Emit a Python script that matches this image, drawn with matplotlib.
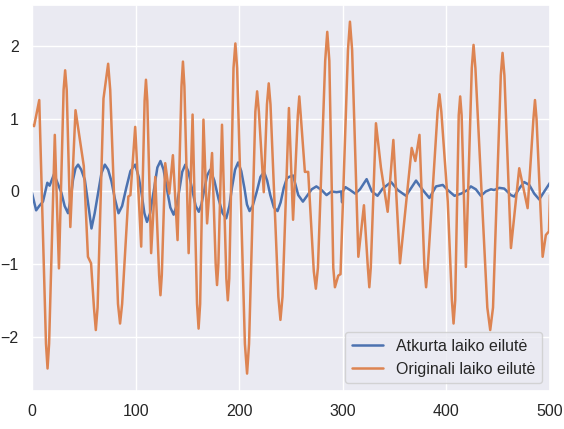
import numpy as np
import matplotlib
matplotlib.use("Agg")
import matplotlib.pyplot as plt
import seaborn as sns

# values (time index, value)
orig_t = [0, 2, 7, 13.5, 15, 16.5, 22, 26, 30.5, 32, 33.5, 37, 42, 50, 54, 57, 59.8,
          61.6, 63.3, 69, 73.5, 75.5, 83, 85, 87, 93, 95, 99.6, 105.4, 108.7, 110,
          111.3, 115, 119, 122.7, 124, 125.3, 128.6, 132.5, 136, 140.5, 144.3, 145.7,
          147.1, 151.2, 155, 159.3, 160.8, 162.3, 165.5, 169, 173.8, 177.3, 178.6,
          179.9, 183.4, 187.6, 189, 190.4, 194.5, 196.3, 198, 205.5, 207.6, 209.5,
          215.6, 217.3, 219, 223.7, 226.8, 228.5, 230.2, 237.8, 239.8, 241.8, 248,
          252, 256.6, 258, 259.4, 263.4, 266.6, 272, 274, 276, 283, 285, 287, 290.8,
          292.4, 295.6, 297.8, 305, 306.9, 309, 315, 320.4, 324.2, 325.6, 327, 332,
          336.8, 343.3, 348.8, 355.2, 366.5, 370, 374, 378.8, 380.4, 382, 391.5,
          393.3, 395.1, 401.3, 405.3, 406.9, 408.5, 411.9, 413.3, 414.7, 418.8,
          424.5, 426.2, 428, 439.5, 442.3, 445, 452.5, 454.2, 456, 462.3, 470.3,
          478.4, 484, 485.5, 487, 492.9, 496, 499, 500]
orig_v = [0.92, 0.90, 1.26, -2.1, -2.44, -2.1, 0.78, -1.06, 1.4, 1.67, 1.4, -0.49,
          1.12, 0.35, -0.9, -0.99, -1.6, -1.91, -1.6, 1.28, 1.76, 1.4, -1.55, -1.82,
          -1.55, -0.07, -0.05, 0.89, -0.76, 1.25, 1.54, 1.25, -0.85, 0.2, -1.15,
          -1.43, -1.15, 0.39, -0.03, 0.5, -0.67, 1.45, 1.79, 1.45, -0.85, 1.06, -1.55,
          -1.89, -1.55, 0.99, -0.44, 0.53, -1.0, -1.29, -1.0, 0.92, -1.2, -1.5, -1.2,
          1.7, 2.04, 1.7, -2.1, -2.51, -2.1, 1.1, 1.38, 1.1, -0.01, 1.2, 1.49, 1.2,
          -1.45, -1.77, -1.45, 1.15, -0.39, 1.05, 1.31, 1.05, 0.27, 0.27, -1.1, -1.34,
          -1.05, 1.8, 2.20, 1.8, -1.05, -1.32, -1.16, -1.14, 1.95, 2.34, 1.95, -0.9,
          -0.19, -1.05, -1.32, -1.05, 0.94, 0.33, -0.28, 0.71, -0.99, 0.6, 0.42, 0.78,
          -1.05, -1.32, -1.05, 1.1, 1.34, 1.1, -0.14, -1.5, -1.82, -1.5, 1.05, 1.31,
          1.05, -1.04, 1.7, 2.02, 1.7, -1.6, -1.91, -1.6, 1.6, 1.91, 1.6, -0.78, 0.32,
          -0.23, 1.0, 1.26, 1.0, -0.9, -0.6, -0.55, -0.05]

rec_t = [0, 4, 7, 10.6, 14.8, 17, 21.3, 28.4, 31.5, 34.8, 37.3, 39.6, 42, 44.5, 47.5,
         51, 54.5, 57.4, 60.5, 63.8, 67, 70.3, 73.5, 76.7, 80, 83.5, 87, 91, 95, 99.6,
         103, 106, 108.5, 111, 114, 118, 121, 124, 127, 130, 133.5, 136.7, 139.5, 142,
         145, 148, 151, 155, 158, 161, 163.5, 166, 169, 172, 176, 180, 184, 187.5,
         190.5, 193, 196, 199, 202, 205, 207.5, 210, 213, 217, 220.5, 224, 227, 230,
         233.5, 237, 240, 243, 246, 248, 252, 257, 261.5, 265, 270, 274.5, 279.5,
         284.3, 289, 294, 298.5, 299.3, 300, 302.5, 307, 312, 316.6, 323, 328, 333.5,
         338.5, 346.6, 353, 361, 370.7, 377.2, 383.6, 390, 396.5, 401.3, 407.8, 414.2,
         420.4, 423.6, 428.4, 433.3, 438, 443, 446, 451, 455.8, 462.3, 465.5, 470.3,
         475, 480, 484.8, 489.6, 494.5, 500]
rec_v = [-0.02, -0.26, -0.2, -0.14, 0.12, 0.08, 0.24, -0.02, -0.2, -0.3, -0.1, 0.16,
         0.32, 0.37, 0.3, 0.16, -0.2, -0.51, -0.3, -0.02, 0.25, 0.37, 0.3, 0.14, -0.1,
         -0.3, -0.2, 0.05, 0.28, 0.37, 0.2, -0.05, -0.3, -0.42, -0.3, 0.05, 0.33, 0.42,
         0.3, 0.05, -0.22, -0.32, -0.2, 0.0, 0.27, 0.37, 0.27, 0.0, -0.2, -0.28,
         -0.18, 0.0, 0.22, 0.3, 0.15, -0.1, -0.3, -0.37, -0.2, 0.05, 0.3, 0.4, 0.28,
         0.05, -0.18, -0.27, -0.2, 0.0, 0.2, 0.27, 0.15, -0.05, -0.22, -0.27, -0.15,
         0.05, 0.18, 0.2, 0.22, -0.05, -0.14, -0.07, 0.03, 0.07, 0.02, -0.05, 0.0,
         -0.01, 0.0, -0.15, 0.0, 0.06, 0.02, -0.03, 0.03, 0.17, 0.0, -0.06, 0.04, 0.13,
         0.02, -0.06, 0.15, 0.02, -0.09, 0.07, 0.09, 0.02, -0.06, -0.03, 0.02, 0.07,
         0.03, -0.06, 0.0, 0.03, 0.02, 0.05, 0.04, -0.05, -0.07, 0.04, 0.13, 0.09,
         -0.03, -0.11, 0.0, 0.12]

sns.set_theme(style="darkgrid")
plt.rcParams["font.family"] = ["Liberation Sans", "DejaVu Sans"]

fig = plt.figure(figsize=(5.64, 4.29), dpi=100)
ax = fig.add_axes([32 / 564, 1 - 391 / 429, 518 / 564, 386 / 429])

ax.plot(rec_t, rec_v, label="Atkurta laiko eilutė", lw=1.8)
ax.plot(orig_t, orig_v, label="Originali laiko eilutė", lw=1.8)

ax.set_xlim(0, 500)
ax.set_ylim(-2.75, 2.57)
ax.set_xticks([0, 100, 200, 300, 400, 500])
ax.set_yticks([-2, -1, 0, 1, 2])
ax.tick_params(labelsize=11.5)
ax.legend(loc="lower right", fontsize=11.5)

fig.savefig("out.png", dpi=100)
